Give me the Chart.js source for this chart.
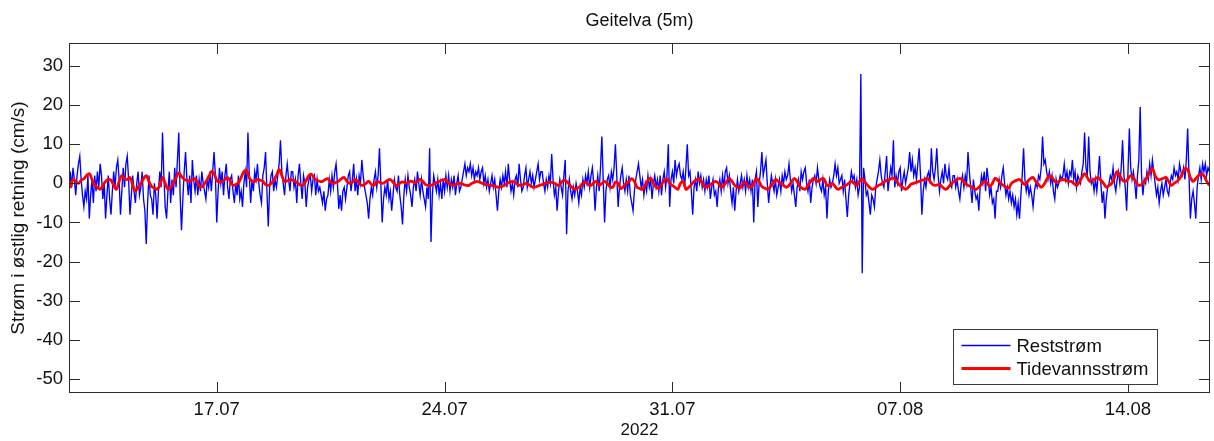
<!DOCTYPE html>
<html><head><meta charset="utf-8">
<script src="https://cdn.jsdelivr.net/npm/chart.js@4.4.1/dist/chart.umd.min.js"></script>
<style>html,body{margin:0;padding:0;background:#fff;} canvas{display:block;}</style>
</head><body>
<canvas id="c" width="1214" height="441"></canvas>
<script>
// ---------- data ----------
const chartTitle = 'Geitelva (5m)';
const yAxisTitle = 'Strøm i østlig retning (cm/s)';
const xAxisTitle = '2022';
const seriesNames = ['Reststrøm', 'Tidevannsstrøm'];
// x axis in days of July 2022 (17 = 17.07, 38 = 07.08)
const xTickDays = [17, 24, 31, 38, 45];
const xTickLabels = ['17.07', '24.07', '31.07', '07.08', '14.08'];
const yTickValues = [30, 20, 10, 0, -10, -20, -30, -40, -50];
const xRange = [12.46, 47.52];
const yRange = [-53.6, 35.9];

// Reststrøm, hourly, starting 12.07 11:00
const reststromStart = 12 + 11 / 24;
const reststromStep = 1 / 24;
const reststrom = [
  -2, 3, -1, 4, 1, -3, 2, 5, 7, 1, -3, -6, -2,
  -4, 2, -9, -3, 1, -5, 2, -2, 3, -1, 5, 2, -4, 0, -9, -3, 2, -4, -8, -2, 3, -1, 4, 6,
  1, -8, -2, 4, -1, 5, 7, 1, -8, -3, 2, -2, -5, 0, 3, -3, -1, 3, -4, -7, -15.5, -5, 2, -3,
  -4, -8, 0, -3, -9, -2, 3, -1, 13, 2, -6, -9, -2, 3, -5, 1, -3, 4, -1, 6, 13, -3, -12, -4,
  3, 8, 1, -3, 2, -5, 6, 1, -2, 2, -3, 1, -2, 3, 0, -2, -4, 1, -1, 3, -2, 3, 8, 2,
  -10, -2, 4, 0, 3, -3, 2, 5, -1, -4, 1, 2, -2, -5, 0, -3, 2, -4, -2, -6, 0, 3, -1, 13,
  2, -5, 1, -2, 3, 1, 5, 0, -3, -5, 2, 4, 8, -2, -11, -1, 2, 3, -2, 1, -1, 2, 5, 11,
  3, 0, -3, 2, 5, 1, -2, 3, 3, -1, 1, -5, 2, 5, 0, -4, 2, 0, -6, -1, 1, 2, -2, 1,
  2, -3, 1, -2, -1, -3, -5, -2, -7, -4, -3, 1, -2, 2, -1, 3, 5, 0, -6.5, -3, -7, -2, -1, -4,
  -1, 2, 3, -2, 1, 5, -2, 1, -3, 2, 0, 6, 2, -1, -3, -5, -9, -4, -1, -3, 1, 3, -1, 2,
  9, 0, -10, -4, -1, -3, 1, -4, -2, -7, -3, 1, -1, -2, 2, -3, -6, -10.5, -3, 1, -2, 2, -1, -3,
  -6, -1, 1, -2, 3, 0, -3, 1, -2, -4, -6, -1, -4, 9, -15, -3, 2, 0, -2, 1, -3, 0, -4, 1,
  -2, 2, -1, 2, -2, 1, -1, 2, -3, 0, 2, -2, -1, 1, 3, 5, 2, 4, 3, 5, 2, 4, 1, 3,
  2, 4, 1, 3, 4, 0, 2, -1, 1, -2, 0, 2, -1, 1, -3, -7, -2, 1, -1, 2, 0, 3, -1, 5,
  1, -2, 0, -3, 1, 2, -1, 5, 1, -2, -1, 2, 4, -1, 1, 3, 0, 2, -1, 1, 3, 5, 1, 3,
  3, 0, -2, 1, -1, 2, 0, 7.5, 1, -3, -1, -7, -2, 1, -1, -3, 2, 6, -13, -2, 1, -2, -4, -1,
  -3, 0, -2, -5, -1, -3, 1, -1, 2, 0, 3, -1, 2, 4, 0, -7, -1, 2, -2, 4, 12, 1, -10, -2,
  1, 2, -1, 3, 1, 4, 10, 2, -6, -1, 2, 4, 0, -2, 1, -2, 2, -3, -5, -7, -2, 1, 3, 5,
  2, -1, 1, -3, 0, -2, 2, -1, 1, -4, 0, 2, -1, 1, -2, 2, -3, 1, 3, -1, 2, 10, -6, 1,
  3, 0, 6, 2, 4, 5, 2, 1, 3, -1, 4, 10, 2, 3, -2, -8, -1, 1, -2, 3, 0, 2, -1, 1,
  -2, 1, -1, 2, -4, -1, 1, -3, -2, -6, -1, 1, -2, 2, -1, 3, 4, 0, 2, -2, -5, -1, -7, -2,
  1, -2, 0, 2, -1, 1, -2, 2, -1, 1, -2, 1, -10, 1, 3, -6, 0, 3, 8, 2, 4, 6, 0, -5,
  -1, 2, 0, -2, 1, -3, -1, 1, -2, 2, 0, 3, 1, 2, 5, 1, -2, 0, -3, -6, -1, 1, -2, 3,
  1, 3, 4, 0, -2, 1, -5, -1, 1, 2, 0, 4, 1, -1, -2, 1, -3, -1, -9, -2, 1, -1, 0, 2,
  5, 2, 4, 0, 1, 2, -2, 1, -4, -8.6, -3, 0, 3, 1, 2, -1, 1, -3, -1, 28, -23, 4, 1, -3,
  -2, -5, -8, -3, -4, -6, -1, 1, 3, 6, 2, 0, -1, 3, 7, -2, 1, 4, 2, 11, -1, 2, 0, 3,
  4, -2, 1, 3, 0, 2, 4, 8, 3, 6, 2, 4, 1, 5, 9, 2, -8, -2, 1, -1, 2, 3, 0, 9,
  3, 1, 4, 9, 2, -2, 1, 3, 0, 5, 2, 1, 4, 0, -1, 2, 2, -1, 1, -2, -4, 0, 2, -1,
  2, 0, 8, 3, -1, -5, 1, -2, -4, -3, -7, -1, 2, 0, 3, -2, 4, 1, -3, -1, -5, -4, -9, -2,
  -2, 1, -1, 2, 4, 0, -3, -1, -4, -2, -5, -3, -6, -4, -8, -5, -9, -3, 2, 9, 1, -2, 0, -3,
  -1, -3, -6, -2, 0, -1, 2, 1, 4, 12, 5, 6, 3, 1, 3, 0, 2, -2, -4, 1, -1, 0, 2, 1,
  2, 5, 1, 3, 0, 3, 2, 6, 1, 3, -1, 2, 1, 0, 3, 5, 13, 4, 2, 12, 3, 0, 1, -2,
  1, -2, 2, 7, 0, -5, -2, -9, -4, -1, 0, 2, 1, 4, 0, -2, 1, 3, 0, 4, 11, 2, -1, -7,
  3, 14, 4, 1, 3, 0, -4, 2, 6, 19.5, 2, -3, 1, 0, 3, 1, 5, 2, 6, 3, 0, -3, -1, -5,
  -2, 0, -3, -1, 1, -2, -3, 0, 2, 1, 4, 2, 3, 1, 5, 3, 2, 4, 1, 6, 14, 2, -9, -4,
  -2, -5, -9, -1, 2, 4, 1, 5, 3, 5, 2, 4, 3
];

// Tidevannsstrøm, every 2 hours, starting 12.07 12:00
const tidevannStart = 12.5;
const tidevannStep = 1 / 12;
const tidevann = [
  -1.2, 1.0, 0.5, 0, 0.8, 1.2,
  2.0, 2.5, 1.0, -0.5, -1.0, -1.5, -0.5, 0.5, 1.0, 0.8, -0.5, -1.5,
  0.5, 2.0, 1.2, 1.0, 1.5, -0.5, -2.0, -1.0, 0.0, 1.2, 2.0, 0.5,
  -0.8, -1.2, -1.5, -0.5, 1.5, 0.0, -1.5, -1.0, 0.0, 1.5, 2.7, 1.8,
  1.0, 0.8, 0.5, 1.0, 1.2, 0.0, -1.0, -0.5, 0.5, 1.5, 3.0, 2.5,
  0.8, 0.3, 0.5, 1.0, 1.5, 0.5, -0.5, -0.3, 0.2, 1.5, 3.0, 3.3,
  1.5, 0.5, 0.5, 1.0, 0.8, 0.5, -0.3, -0.5, 0.0, 0.8, 2.0, 3.5,
  2.0, 0.5, 0.6, 1.0, 0.8, 0.5, 0.0, -0.5, -0.3, 0.8, 2.0, 2.3,
  1.2, 0.8, 0.5, 0.5, 1.0, 1.2, 0.3, 0.0, 0.3, 0.6, 1.2, 1.5,
  0.5, 0.0, 0.3, 1.0, 0.5, -0.3, -0.5, 0.0, 0.5, -0.2, -0.5, 0.5,
  0.3, 0.0, 0.3, 0.8, 1.0, 0.3, -0.5, -0.3, 0.3, 0.3, 0.0, 0.5,
  0.5, 0.2, 0.5, 1.0, 0.5, -0.3, -0.5, -0.5, -0.2, 0.2, 0.5, 0.8,
  1.0, 0.5, -0.2, -0.5, -0.3, 0.0, 0.0, -0.3, -0.5, -0.5, 0.0, 0.3,
  0.5, 0.3, 0.0, -0.3, -0.3, -0.5, -0.6, -0.8, -1.0, -0.8, -0.5, 0.0,
  0.3, 0.5, 0.2, -0.3, -0.5, -0.3, 0.0, -0.3, -0.8, -1.0, -0.8, -0.5,
  -0.3, 0.0, 0.2, 0.3, 0.2, -0.2, -0.5, 0.2, 0.8, 0.5, -0.3, -1.0,
  -1.5, -1.2, -0.8, 0.0, 0.3, -0.3, -0.5, 0.2, 0.5, -0.5, 0.0, 0.5,
  0.0, -0.8, -1.0, 0.3, 0.0, -1.3, -0.8, 0.0, 0.5, 1.2, 0.5, -1.0,
  -1.3, -1.5, -0.5, 0.8, 1.3, 0.0, -1.0, -1.2, -0.3, 0.8, 1.2, 0.0,
  -0.5, -1.0, -1.5, 0.0, 0.5, -1.5, -1.0, -0.3, 0.5, 1.0, 1.2, 0.0,
  -1.0, -0.8, -0.3, 0.2, 0.5, 0.0, -1.0, -0.5, 0.5, 1.3, 0.5, -0.5,
  -1.0, -1.2, 0.0, 0.3, -0.8, -1.0, 0.0, 1.3, 0.5, -0.8, -1.2, -1.5,
  -1.0, 0.0, 1.0, 0.5, 0.0, -0.5, -1.0, -0.5, 0.5, 1.3, 0.5, -0.8,
  -1.3, -1.5, -0.5, 0.5, 1.3, 0.8, 0.5, 1.2, 1.0, -0.5, -0.5, 0.0,
  -0.8, -1.5, -1.2, -0.8, -0.5, 0.0, 0.5, 0.0, -0.5, 0.5, 1.2, 0.3,
  -0.5, -1.2, -1.5, -1.0, -0.5, -0.2, 0.3, 0.8, 1.0, 1.3, 1.2, 0.2,
  -0.5, -1.0, -1.5, -1.0, -0.2, 0.0, 0.3, 0.5, 0.8, 1.0, 1.3, 0.5,
  -0.3, -0.5, -0.3, -0.5, -1.2, -1.5, -0.8, 0.0, 0.5, 1.0, 1.3, 0.8,
  0.0, -0.5, -0.8, -1.2, -1.5, -1.0, -0.2, 0.5, 0.2, -0.8, 0.0, 1.3,
  0.8, 0.0, -0.5, -1.0, -1.2, 0.0, 0.5, 0.8, 1.0, 0.3, -0.3, 0.5,
  1.2, 1.5, 0.5, -0.3, -1.0, -0.3, 1.0, 2.0, 1.5, 0.5, 0.3, 0.8,
  1.0, 0.8, 0.5, 0.5, 0.0, -0.5, 0.3, 1.5, 2.5, 1.5, 0.5, 0.8,
  1.2, 1.5, 0.8, 0.0, -1.0, -0.5, 0.0, 1.5, 3.0, 2.0, 0.8, 0.5,
  1.2, 2.0, 1.5, 0.3, -0.5, -0.3, 0.5, 1.5, 3.0, 3.8, 2.0, 1.0,
  1.0, 1.3, 1.5, 0.5, -0.5, 0.0, 0.5, 1.2, 2.5, 3.8, 3.5, 1.5,
  0.5, 1.2, 2.0, 2.5, 2.0, 0.5, -0.5
];

// ---------- chart ----------
const FONT = "'Liberation Sans', Arial, Helvetica, sans-serif";
const TEXT = '#111111';
const FRAME = '#2b2b2b';

const toPoints = (vals, start, step) => vals.map((v, i) => ({ x: start + i * step, y: v }));

const decorPlugin = {
  id: 'decor',
  afterDatasetsDraw(chart) {
    const { ctx, chartArea: a, scales: { x, y } } = chart;
    ctx.save();
    ctx.strokeStyle = FRAME;
    ctx.lineWidth = 1;
    ctx.strokeRect(a.left + 0.5, a.top + 0.5, a.right - a.left - 1, a.bottom - a.top - 1);
    const tl = 11;
    ctx.beginPath();
    xTickDays.forEach(d => {
      const px = Math.round(x.getPixelForValue(d)) + 0.5;
      ctx.moveTo(px, a.bottom); ctx.lineTo(px, a.bottom - tl);
      ctx.moveTo(px, a.top); ctx.lineTo(px, a.top + tl);
    });
    yTickValues.forEach(v => {
      const py = Math.round(y.getPixelForValue(v)) + 0.5;
      ctx.moveTo(a.left, py); ctx.lineTo(a.left + tl, py);
      ctx.moveTo(a.right, py); ctx.lineTo(a.right - tl, py);
    });
    ctx.stroke();

    // legend box (bottom right, inside plot)
    const lx = 953.5, ly = 329.5, lw = 204, lh = 55;
    ctx.fillStyle = '#ffffff';
    ctx.fillRect(lx, ly, lw, lh);
    ctx.strokeStyle = '#3a3a3a';
    ctx.lineWidth = 1;
    ctx.strokeRect(lx, ly, lw, lh);
    const ds = chart.data.datasets;
    const rows = [ly + 16, ly + 39];
    ds.forEach((d, i) => {
      ctx.strokeStyle = d.borderColor;
      ctx.lineWidth = i === 0 ? 1.4 : d.borderWidth;
      ctx.beginPath();
      ctx.moveTo(lx + 8, rows[i]); ctx.lineTo(lx + 57, rows[i]);
      ctx.stroke();
      ctx.fillStyle = TEXT;
      ctx.font = '18.5px ' + FONT;
      ctx.textAlign = 'left';
      ctx.textBaseline = 'middle';
      ctx.fillText(d.label, lx + 63, rows[i] + 1);
    });
    ctx.restore();
  },
  afterDraw(chart) {
    const { ctx, chartArea: a } = chart;
    ctx.save();
    ctx.fillStyle = TEXT;
    ctx.font = '18px ' + FONT;
    ctx.textAlign = 'center';
    ctx.textBaseline = 'middle';
    ctx.fillText(chartTitle, (a.left + a.right) / 2, 21);
    ctx.restore();
  }
};

new Chart(document.getElementById('c'), {
  type: 'line',
  data: {
    datasets: [
      {
        label: seriesNames[0],
        data: toPoints(reststrom, reststromStart, reststromStep),
        borderColor: '#0000ff',
        borderWidth: 1.35,
        pointRadius: 0,
        tension: 0,
        order: 1
      },
      {
        label: seriesNames[1],
        data: toPoints(tidevann, tidevannStart, tidevannStep),
        borderColor: '#ff0000',
        borderWidth: 2.8,
        pointRadius: 0,
        tension: 0.4,
        order: 0
      }
    ]
  },
  options: {
    responsive: false,
    animation: false,
    devicePixelRatio: 1,
    layout: { padding: { top: 43, right: 4, bottom: 0, left: 0 } },
    plugins: { legend: { display: false }, tooltip: { enabled: false }, title: { display: false } },
    scales: {
      x: {
        type: 'linear',
        min: xRange[0],
        max: xRange[1],
        afterBuildTicks: s => { s.ticks = xTickDays.map(v => ({ value: v })); },
        afterFit: s => { s.height = 48; },
        grid: { display: false, drawTicks: false },
        border: { display: false },
        ticks: {
          autoSkip: false,
          maxRotation: 0,
          padding: 6,
          color: TEXT,
          font: { family: FONT, size: 18.5 },
          callback: v => { const i = xTickDays.indexOf(v); return i >= 0 ? xTickLabels[i] : ''; }
        },
        title: { display: true, text: xAxisTitle, color: TEXT, font: { family: FONT, size: 17 }, padding: { top: 0, bottom: 0 } }
      },
      y: {
        type: 'linear',
        min: yRange[0],
        max: yRange[1],
        afterBuildTicks: s => { s.ticks = yTickValues.map(v => ({ value: v })); },
        afterFit: s => { s.width = 69; },
        grid: { display: false, drawTicks: false },
        border: { display: false },
        ticks: { padding: 6, color: TEXT, font: { family: FONT, size: 18.5 } },
        title: { display: true, text: yAxisTitle, color: TEXT, font: { family: FONT, size: 19 }, padding: { top: 7, bottom: 0 } }
      }
    }
  },
  plugins: [decorPlugin]
});
</script>
</body></html>
